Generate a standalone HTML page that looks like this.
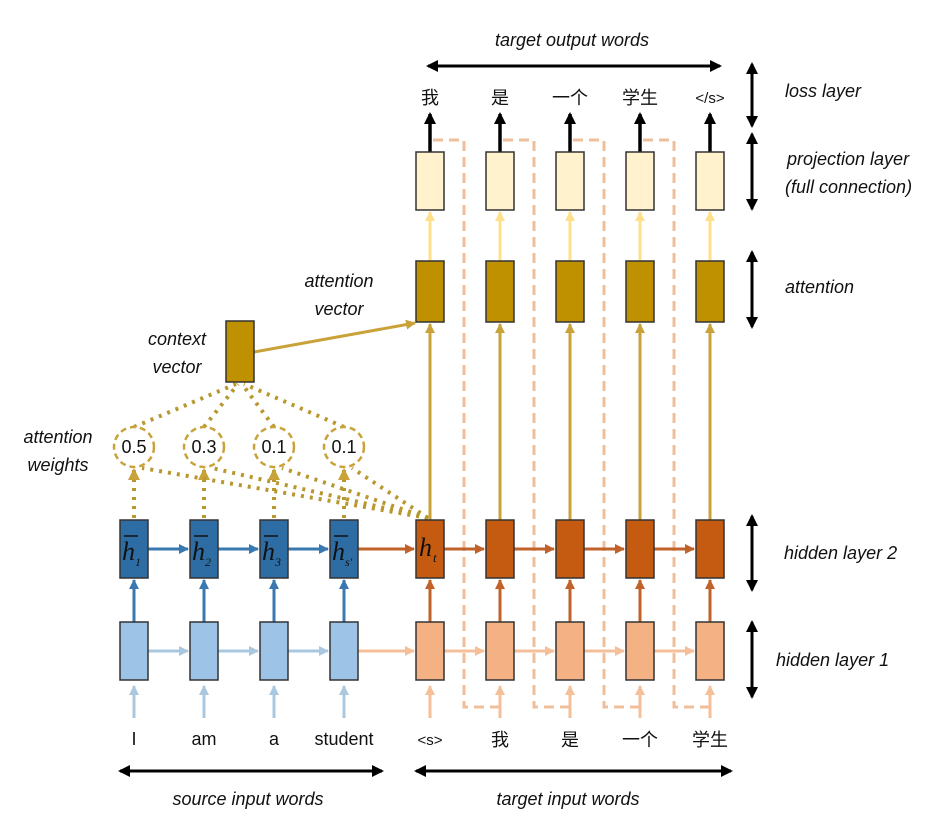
<!DOCTYPE html>
<html><head><meta charset="utf-8"><style>
html,body{margin:0;padding:0;background:#fff}
svg{display:block}
text{font-family:"Liberation Sans","Noto Sans CJK SC",sans-serif}
text.s{font-family:"Liberation Serif",serif;font-style:italic}
.it{font-style:italic;font-size:18px;fill:#111}
.w{font-size:18px;fill:#111}
</style></head><body>
<svg width="951" height="822" viewBox="0 0 951 822" xmlns="http://www.w3.org/2000/svg">
<defs>
<marker id="ab" markerWidth="10" markerHeight="10" refX="9" refY="5" orient="auto" markerUnits="userSpaceOnUse"><path d="M0,0 L10,5 L0,10z" fill="#3a78b0"/></marker>
<marker id="alb" markerWidth="10" markerHeight="10" refX="9" refY="5" orient="auto" markerUnits="userSpaceOnUse"><path d="M0,0 L10,5 L0,10z" fill="#a9c8e0"/></marker>
<marker id="ao" markerWidth="10" markerHeight="10" refX="9" refY="5" orient="auto" markerUnits="userSpaceOnUse"><path d="M0,0 L10,5 L0,10z" fill="#c0622a"/></marker>
<marker id="alo" markerWidth="10" markerHeight="10" refX="9" refY="5" orient="auto" markerUnits="userSpaceOnUse"><path d="M0,0 L10,5 L0,10z" fill="#f5bf9a"/></marker>
<marker id="ag" markerWidth="10" markerHeight="10" refX="9" refY="5" orient="auto" markerUnits="userSpaceOnUse"><path d="M0,0 L10,5 L0,10z" fill="#c9a23a"/></marker>
<marker id="ag2" markerWidth="12" markerHeight="12" refX="10" refY="6" orient="auto" markerUnits="userSpaceOnUse"><path d="M0,0 L12,6 L0,12z" fill="#c9a23a"/></marker>
<marker id="ay" markerWidth="10" markerHeight="10" refX="9" refY="5" orient="auto" markerUnits="userSpaceOnUse"><path d="M0,0 L10,5 L0,10z" fill="#ffe08a"/></marker>
<marker id="abk" markerWidth="12" markerHeight="12" refX="10" refY="6" orient="auto" markerUnits="userSpaceOnUse"><path d="M0,0 L12,6 L0,12z" fill="#000"/></marker>
</defs>

<g fill="none" stroke="#efbf9c" stroke-width="3" stroke-dasharray="10,6">
<path d="M433,140 H464 V707 H500"/>
<path d="M503,140 H534 V707 H570"/>
<path d="M573,140 H604 V707 H640"/>
<path d="M643,140 H674 V707 H710"/>
</g>

<g stroke-width="3">
<line x1="134" y1="718" x2="134" y2="686" stroke="#a9c8e0" marker-end="url(#alb)"/>
<line x1="204" y1="718" x2="204" y2="686" stroke="#a9c8e0" marker-end="url(#alb)"/>
<line x1="274" y1="718" x2="274" y2="686" stroke="#a9c8e0" marker-end="url(#alb)"/>
<line x1="344" y1="718" x2="344" y2="686" stroke="#a9c8e0" marker-end="url(#alb)"/>
<line x1="430" y1="718" x2="430" y2="686" stroke="#f5bf9a" marker-end="url(#alo)"/>
<line x1="500" y1="718" x2="500" y2="686" stroke="#f5bf9a" marker-end="url(#alo)"/>
<line x1="570" y1="718" x2="570" y2="686" stroke="#f5bf9a" marker-end="url(#alo)"/>
<line x1="640" y1="718" x2="640" y2="686" stroke="#f5bf9a" marker-end="url(#alo)"/>
<line x1="710" y1="718" x2="710" y2="686" stroke="#f5bf9a" marker-end="url(#alo)"/>
</g>

<g stroke-width="3">
<line x1="148" y1="651" x2="188" y2="651" stroke="#a9c8e0" marker-end="url(#alb)"/>
<line x1="218" y1="651" x2="258" y2="651" stroke="#a9c8e0" marker-end="url(#alb)"/>
<line x1="288" y1="651" x2="328" y2="651" stroke="#a9c8e0" marker-end="url(#alb)"/>
<line x1="358" y1="651" x2="414" y2="651" stroke="#f5bf9a" marker-end="url(#alo)"/>
<line x1="444" y1="651" x2="484" y2="651" stroke="#f5bf9a" marker-end="url(#alo)"/>
<line x1="514" y1="651" x2="554" y2="651" stroke="#f5bf9a" marker-end="url(#alo)"/>
<line x1="584" y1="651" x2="624" y2="651" stroke="#f5bf9a" marker-end="url(#alo)"/>
<line x1="654" y1="651" x2="694" y2="651" stroke="#f5bf9a" marker-end="url(#alo)"/>
</g>
<g stroke-width="3">
<line x1="134" y1="622" x2="134" y2="580" stroke="#3a78b0" marker-end="url(#ab)"/>
<line x1="204" y1="622" x2="204" y2="580" stroke="#3a78b0" marker-end="url(#ab)"/>
<line x1="274" y1="622" x2="274" y2="580" stroke="#3a78b0" marker-end="url(#ab)"/>
<line x1="344" y1="622" x2="344" y2="580" stroke="#3a78b0" marker-end="url(#ab)"/>
<line x1="430" y1="622" x2="430" y2="580" stroke="#c0622a" marker-end="url(#ao)"/>
<line x1="500" y1="622" x2="500" y2="580" stroke="#c0622a" marker-end="url(#ao)"/>
<line x1="570" y1="622" x2="570" y2="580" stroke="#c0622a" marker-end="url(#ao)"/>
<line x1="640" y1="622" x2="640" y2="580" stroke="#c0622a" marker-end="url(#ao)"/>
<line x1="710" y1="622" x2="710" y2="580" stroke="#c0622a" marker-end="url(#ao)"/>
</g>
<g stroke-width="3">
<line x1="148" y1="549" x2="188" y2="549" stroke="#3a78b0" marker-end="url(#ab)"/>
<line x1="218" y1="549" x2="258" y2="549" stroke="#3a78b0" marker-end="url(#ab)"/>
<line x1="288" y1="549" x2="328" y2="549" stroke="#3a78b0" marker-end="url(#ab)"/>
<line x1="358" y1="549" x2="414" y2="549" stroke="#c0622a" marker-end="url(#ao)"/>
<line x1="444" y1="549" x2="484" y2="549" stroke="#c0622a" marker-end="url(#ao)"/>
<line x1="514" y1="549" x2="554" y2="549" stroke="#c0622a" marker-end="url(#ao)"/>
<line x1="584" y1="549" x2="624" y2="549" stroke="#c0622a" marker-end="url(#ao)"/>
<line x1="654" y1="549" x2="694" y2="549" stroke="#c0622a" marker-end="url(#ao)"/>
</g>
<g stroke-width="3" stroke="#c9a23a">
<line x1="430" y1="520" x2="430" y2="324" marker-end="url(#ag)"/>
<line x1="500" y1="520" x2="500" y2="324" marker-end="url(#ag)"/>
<line x1="570" y1="520" x2="570" y2="324" marker-end="url(#ag)"/>
<line x1="640" y1="520" x2="640" y2="324" marker-end="url(#ag)"/>
<line x1="710" y1="520" x2="710" y2="324" marker-end="url(#ag)"/>
<line x1="254" y1="352" x2="415" y2="323" marker-end="url(#ag)"/>
</g>
<g stroke-width="3" stroke="#ffe08a">
<line x1="430" y1="261" x2="430" y2="212" marker-end="url(#ay)"/>
<line x1="500" y1="261" x2="500" y2="212" marker-end="url(#ay)"/>
<line x1="570" y1="261" x2="570" y2="212" marker-end="url(#ay)"/>
<line x1="640" y1="261" x2="640" y2="212" marker-end="url(#ay)"/>
<line x1="710" y1="261" x2="710" y2="212" marker-end="url(#ay)"/>
</g>
<g stroke-width="3.5" stroke="#000">
<line x1="430" y1="152" x2="430" y2="114" marker-end="url(#abk)"/>
<line x1="500" y1="152" x2="500" y2="114" marker-end="url(#abk)"/>
<line x1="570" y1="152" x2="570" y2="114" marker-end="url(#abk)"/>
<line x1="640" y1="152" x2="640" y2="114" marker-end="url(#abk)"/>
<line x1="710" y1="152" x2="710" y2="114" marker-end="url(#abk)"/>
</g>

<g fill="none" stroke="#b8982e" stroke-width="4" stroke-dasharray="3,6">
<line x1="134" y1="518" x2="134" y2="470" marker-end="url(#ag2)"/>
<line x1="204" y1="518" x2="204" y2="470" marker-end="url(#ag2)"/>
<line x1="274" y1="518" x2="274" y2="470" marker-end="url(#ag2)"/>
<line x1="344" y1="518" x2="344" y2="470" marker-end="url(#ag2)"/>
<line x1="428" y1="518" x2="142" y2="468"/>
<line x1="428" y1="518" x2="212" y2="468"/>
<line x1="428" y1="518" x2="282" y2="468"/>
<line x1="428" y1="518" x2="352" y2="468"/>
<line x1="134" y1="427" x2="236" y2="384"/>
<line x1="204" y1="427" x2="238" y2="384"/>
<line x1="274" y1="427" x2="242" y2="384"/>
<line x1="344" y1="427" x2="244" y2="384"/>
</g>
<g fill="#fff" stroke="#c9a23a" stroke-width="2.5" stroke-dasharray="6,4">
<circle cx="134" cy="447" r="20"/><circle cx="204" cy="447" r="20"/><circle cx="274" cy="447" r="20"/><circle cx="344" cy="447" r="20"/>
</g>
<g class="w" text-anchor="middle" font-size="17">
<text x="134" y="453">0.5</text><text x="204" y="453">0.3</text><text x="274" y="453">0.1</text><text x="344" y="453">0.1</text>
</g>

<g stroke="#333" stroke-width="1.5">
<rect x="226" y="321" width="28" height="61" fill="#bf9000"/>
<rect x="120" y="622" width="28" height="58" fill="#9dc3e6"/>
<rect x="190" y="622" width="28" height="58" fill="#9dc3e6"/>
<rect x="260" y="622" width="28" height="58" fill="#9dc3e6"/>
<rect x="330" y="622" width="28" height="58" fill="#9dc3e6"/>
<rect x="120" y="520" width="28" height="58" fill="#2e6da4"/>
<rect x="190" y="520" width="28" height="58" fill="#2e6da4"/>
<rect x="260" y="520" width="28" height="58" fill="#2e6da4"/>
<rect x="330" y="520" width="28" height="58" fill="#2e6da4"/>
<rect x="416" y="622" width="28" height="58" fill="#f4b183"/>
<rect x="486" y="622" width="28" height="58" fill="#f4b183"/>
<rect x="556" y="622" width="28" height="58" fill="#f4b183"/>
<rect x="626" y="622" width="28" height="58" fill="#f4b183"/>
<rect x="696" y="622" width="28" height="58" fill="#f4b183"/>
<rect x="416" y="520" width="28" height="58" fill="#c55a11"/>
<rect x="486" y="520" width="28" height="58" fill="#c55a11"/>
<rect x="556" y="520" width="28" height="58" fill="#c55a11"/>
<rect x="626" y="520" width="28" height="58" fill="#c55a11"/>
<rect x="696" y="520" width="28" height="58" fill="#c55a11"/>
<rect x="416" y="261" width="28" height="61" fill="#bf9000"/>
<rect x="486" y="261" width="28" height="61" fill="#bf9000"/>
<rect x="556" y="261" width="28" height="61" fill="#bf9000"/>
<rect x="626" y="261" width="28" height="61" fill="#bf9000"/>
<rect x="696" y="261" width="28" height="61" fill="#bf9000"/>
<rect x="416" y="152" width="28" height="58" fill="#fff2cc"/>
<rect x="486" y="152" width="28" height="58" fill="#fff2cc"/>
<rect x="556" y="152" width="28" height="58" fill="#fff2cc"/>
<rect x="626" y="152" width="28" height="58" fill="#fff2cc"/>
<rect x="696" y="152" width="28" height="58" fill="#fff2cc"/>
</g>
<g fill="#111">
<text class="s" x="122" y="560" font-size="26">h</text><text class="s" x="135" y="566" font-size="12" font-style="normal">1</text>
<text class="s" x="192" y="560" font-size="26">h</text><text class="s" x="205" y="566" font-size="12">2</text>
<text class="s" x="262" y="560" font-size="26">h</text><text class="s" x="275" y="566" font-size="12">3</text>
<text class="s" x="332" y="560" font-size="26">h</text><text class="s" x="345" y="566" font-size="12">s'</text>
<text class="s" x="419" y="556" font-size="26">h</text><text class="s" x="433" y="562" font-size="13">t</text>
</g>
<g stroke="#111" stroke-width="1.5">
<line x1="124" y1="536" x2="138" y2="536"/><line x1="194" y1="536" x2="208" y2="536"/><line x1="264" y1="536" x2="278" y2="536"/><line x1="334" y1="536" x2="348" y2="536"/>
</g>

<g class="w" text-anchor="middle">
<text x="134" y="745">I</text><text x="204" y="745">am</text><text x="274" y="745">a</text><text x="344" y="745">student</text>
<text x="430" y="745" font-size="15">&lt;s&gt;</text><text x="500" y="746">我</text><text x="570" y="746">是</text><text x="640" y="746">一个</text><text x="710" y="746">学生</text>
<text x="430" y="104">我</text><text x="500" y="104">是</text><text x="570" y="104">一个</text><text x="640" y="104">学生</text><text x="710" y="103" font-size="15">&lt;/s&gt;</text>
</g>

<g stroke="#000" stroke-width="3">
<line x1="430" y1="66" x2="720" y2="66" marker-end="url(#abk)"/><line x1="720" y1="66" x2="428" y2="66" marker-end="url(#abk)"/>
<line x1="132" y1="771" x2="382" y2="771" marker-end="url(#abk)"/><line x1="372" y1="771" x2="120" y2="771" marker-end="url(#abk)"/>
<line x1="428" y1="771" x2="731" y2="771" marker-end="url(#abk)"/><line x1="720" y1="771" x2="416" y2="771" marker-end="url(#abk)"/>
<line x1="752" y1="75" x2="752" y2="64" marker-end="url(#abk)"/><line x1="752" y1="64" x2="752" y2="126" marker-end="url(#abk)"/>
<line x1="752" y1="145" x2="752" y2="134" marker-end="url(#abk)"/><line x1="752" y1="134" x2="752" y2="209" marker-end="url(#abk)"/>
<line x1="752" y1="263" x2="752" y2="252" marker-end="url(#abk)"/><line x1="752" y1="252" x2="752" y2="327" marker-end="url(#abk)"/>
<line x1="752" y1="527" x2="752" y2="516" marker-end="url(#abk)"/><line x1="752" y1="516" x2="752" y2="590" marker-end="url(#abk)"/>
<line x1="752" y1="633" x2="752" y2="622" marker-end="url(#abk)"/><line x1="752" y1="622" x2="752" y2="697" marker-end="url(#abk)"/>
</g>

<g class="it">
<text x="572" y="46" text-anchor="middle">target output words</text>
<text x="248" y="805" text-anchor="middle">source input words</text>
<text x="568" y="805" text-anchor="middle">target input words</text>
<text x="785" y="97">loss layer</text>
<text x="787" y="165">projection layer</text>
<text x="785" y="193">(full connection)</text>
<text x="785" y="293">attention</text>
<text x="784" y="559">hidden layer 2</text>
<text x="776" y="666">hidden layer 1</text>
<text x="58" y="443" text-anchor="middle">attention</text>
<text x="58" y="471" text-anchor="middle">weights</text>
<text x="177" y="345" text-anchor="middle">context</text>
<text x="177" y="373" text-anchor="middle">vector</text>
<text x="339" y="287" text-anchor="middle">attention</text>
<text x="339" y="315" text-anchor="middle">vector</text>
</g>
</svg>
</body></html>
